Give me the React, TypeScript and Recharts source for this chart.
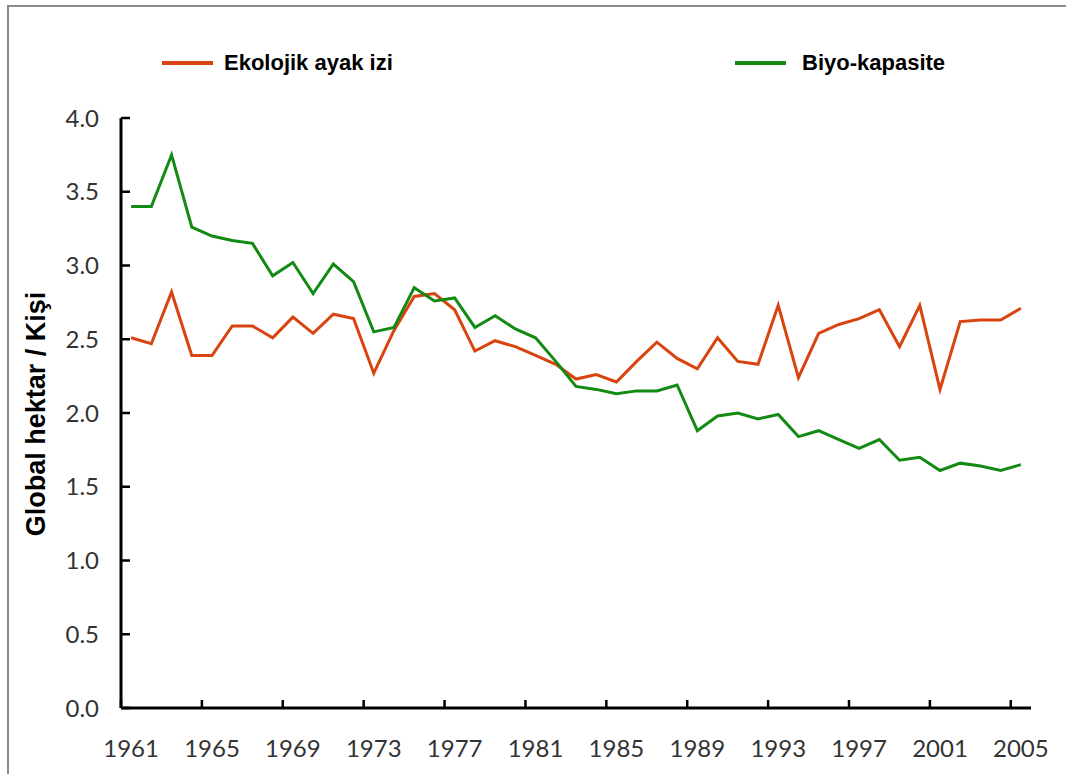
import { LineChart, Line, XAxis, YAxis, Legend } from "recharts"

const years = [
  1961, 1962, 1963, 1964, 1965, 1966, 1967, 1968, 1969, 1970,
  1971, 1972, 1973, 1974, 1975, 1976, 1977, 1978, 1979, 1980,
  1981, 1982, 1983, 1984, 1985, 1986, 1987, 1988, 1989, 1990,
  1991, 1992, 1993, 1994, 1995, 1996, 1997, 1998, 1999, 2000,
  2001, 2002, 2003, 2004, 2005,
]

// Ekolojik ayak izi
const footprint = [
  2.51, 2.47, 2.82, 2.39, 2.39, 2.59, 2.59, 2.51, 2.65, 2.54,
  2.67, 2.64, 2.27, 2.56, 2.79, 2.81, 2.70, 2.42, 2.49, 2.45,
  2.39, 2.33, 2.23, 2.26, 2.21, 2.35, 2.48, 2.37, 2.30, 2.51,
  2.35, 2.33, 2.73, 2.24, 2.54, 2.60, 2.64, 2.70, 2.45, 2.73,
  2.16, 2.62, 2.63, 2.63, 2.71,
]

// Biyo-kapasite
const biocapacity = [
  3.40, 3.40, 3.75, 3.26, 3.20, 3.17, 3.15, 2.93, 3.02, 2.81,
  3.01, 2.89, 2.55, 2.58, 2.85, 2.76, 2.78, 2.58, 2.66, 2.57,
  2.51, 2.35, 2.18, 2.16, 2.13, 2.15, 2.15, 2.19, 1.88, 1.98,
  2.00, 1.96, 1.99, 1.84, 1.88, 1.82, 1.76, 1.82, 1.68, 1.70,
  1.61, 1.66, 1.64, 1.61, 1.65,
]

const yTicks = [0, 0.5, 1, 1.5, 2, 2.5, 3, 3.5, 4]

const seriesNames = ["Ekolojik ayak izi", "Biyo-kapasite"]
const yLabel = "Global hektar / Kişi"

const data = years.map((year, i) => ({
  year,
  footprint: footprint[i],
  biocapacity: biocapacity[i],
}))

const RED = "#d9430f"
const GREEN = "#138a13"
const W = 1066
const H = 774
const PLOT_W = 910
const HALF_BAND = PLOT_W / years.length / 2

const tickFont = { fontFamily: "Lato, sans-serif", fontSize: 24, fill: "#333" }

function XTick(props: any) {
  const { x, y, payload } = props
  return (
    <g>
      <line x1={x - HALF_BAND} x2={x - HALF_BAND} y1={y} y2={y - 8} stroke="#000" strokeWidth={2.5} />
      <text x={x} y={y + 49} textAnchor="middle" {...tickFont}>
        {payload.value}
      </text>
    </g>
  )
}

function YTick(props: any) {
  const { x, y, payload } = props
  return (
    <g>
      <line x1={x} x2={x + 9} y1={y} y2={y} stroke="#000" strokeWidth={2.5} />
      <text x={x - 22} y={y} dy="0.36em" textAnchor="end" {...tickFont}>
        {Number(payload.value).toFixed(1)}
      </text>
    </g>
  )
}

function YLabel() {
  return (
    <text
      x={36}
      y={414}
      transform="rotate(-90 36 414)"
      textAnchor="middle"
      dominantBaseline="central"
      fontFamily="'Liberation Sans', Arial, sans-serif"
      fontWeight="bold"
      fontSize={27}
      fill="#000"
    >
      {yLabel}
    </text>
  )
}

function LegendBox() {
  const item = (color: string, name: string, left: number, gap: number) => (
    <div style={{ position: "absolute", left, top: 0, display: "flex", alignItems: "center" }}>
      <div style={{ width: 51, height: 3.5, background: color, marginRight: gap }} />
      <span
        style={{
          fontFamily: "'Liberation Sans', Arial, sans-serif",
          fontWeight: "bold",
          fontSize: 22,
          color: "#000",
          lineHeight: "26px",
        }}
      >
        {name}
      </span>
    </div>
  )
  return (
    <div style={{ position: "relative", width: 900, height: 26 }}>
      {item(RED, seriesNames[0], 0, 11)}
      {item(GREEN, seriesNames[1], 573, 16)}
    </div>
  )
}

export default function App() {
  return (
    <div
      style={{
        position: "absolute",
        left: 0,
        top: 0,
        width: W,
        height: H,
        overflow: "hidden",
        background: "#fff",
      }}
    >
      <div
        style={{
          position: "absolute",
          left: 7,
          top: 5,
          width: W + 40,
          height: H + 40,
          border: "2px solid #8a8a8a",
          boxSizing: "border-box",
        }}
      />
      <div style={{ position: "absolute", left: 0, top: 0 }}>
        <LineChart width={W} height={H} data={data} margin={{ top: 118, right: 35, bottom: 0, left: 0 }}>
          <XAxis
            dataKey="year"
            interval={3}
            height={66}
            padding={{ left: HALF_BAND, right: HALF_BAND }}
            axisLine={{ stroke: "#000", strokeWidth: 3 }}
            tickLine={false}
            tickSize={0}
            tickMargin={0}
            tick={<XTick />}
          />
          <YAxis
            width={121}
            domain={[0, 4]}
            ticks={yTicks}
            interval={0}
            axisLine={{ stroke: "#000", strokeWidth: 3 }}
            tickLine={false}
            tickSize={0}
            tickMargin={0}
            tick={<YTick />}
            label={() => <YLabel />}
          />
          <Legend
            verticalAlign="middle"
            layout="horizontal"
            content={() => <LegendBox />}
            wrapperStyle={{ left: 162, top: 50, width: 900, height: 26 }}
          />
          <Line
            type="linear"
            dataKey="footprint"
            name={seriesNames[0]}
            stroke={RED}
            strokeWidth={3}
            dot={false}
            isAnimationActive={false}
          />
          <Line
            type="linear"
            dataKey="biocapacity"
            name={seriesNames[1]}
            stroke={GREEN}
            strokeWidth={3}
            dot={false}
            isAnimationActive={false}
          />
        </LineChart>
      </div>
    </div>
  )
}
